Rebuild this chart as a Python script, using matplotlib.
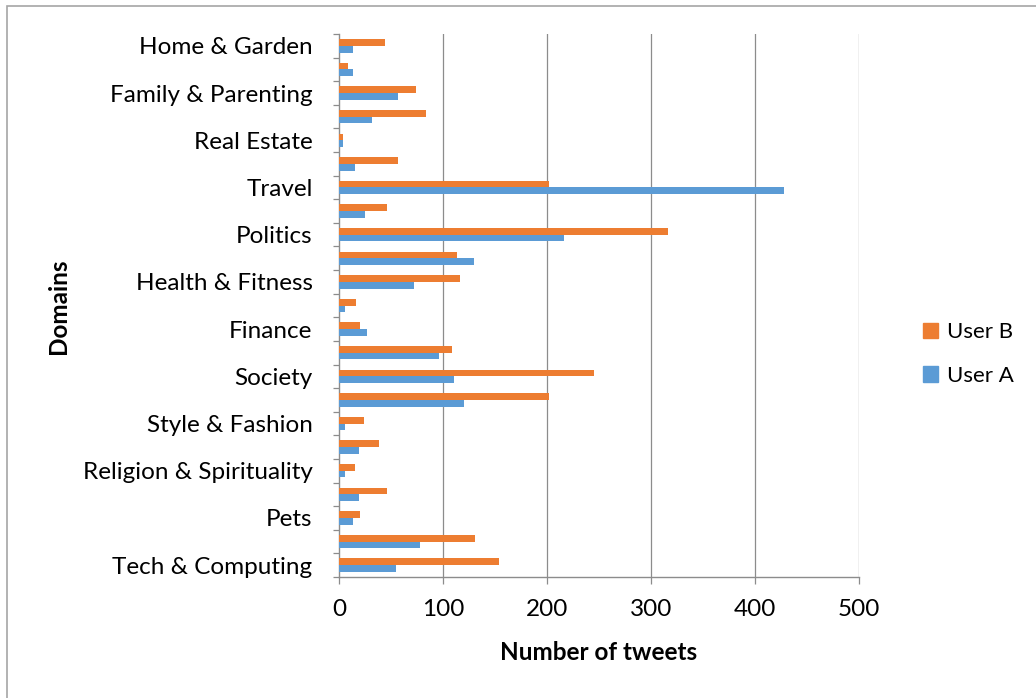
import matplotlib
matplotlib.use("Agg")
import matplotlib.pyplot as plt
from matplotlib.patches import Patch, Rectangle
import numpy as np

# Domain categories, bottom to top; only every other one is labelled on the axis
domains = [
    "Tech & Computing", "Science", "Pets", "Sports", "Religion & Spirituality",
    "Food & Drink", "Style & Fashion", "News", "Society", "Arts & Entertainment",
    "Finance", "Careers", "Health & Fitness", "Hobbies & Interests", "Politics",
    "Education", "Travel", "Business", "Real Estate", "Automotive",
    "Family & Parenting", "Shopping", "Home & Garden",
]
user_b = [154, 131, 20, 46, 15, 38, 24, 202, 245, 109, 20, 16, 116, 113, 316,
          46, 202, 57, 4, 84, 74, 9, 44]
user_a = [55, 78, 13, 19, 6, 19, 6, 120, 111, 96, 27, 6, 72, 130, 216,
          25, 428, 15, 4, 32, 57, 13, 13]
x_ticks = [0, 100, 200, 300, 400, 500]

ORANGE = "#ED7D31"
BLUE = "#5B9BD5"
GRID = "#8C8C8C"
FONT = "Lato"
FS = 17.5

W, H = 1036, 698
fig = plt.figure(figsize=(W / 100, H / 100), dpi=100)
fig.patch.set_facecolor("white")

# outer chart frame
fig.add_artist(Rectangle((7 / W, -0.1), 1.2, (H - 6) / H + 0.1,
                         transform=fig.transFigure, fill=False,
                         edgecolor="#A6A6A6", linewidth=1.2))

ax = fig.add_axes([339 / W, 1 - 577 / H, 520 / W, 543 / H])
y = np.arange(len(domains))
h = 0.285
ax.barh(y + h / 2, user_b, height=h, color=ORANGE, label="User B", zorder=3)
ax.barh(y - h / 2, user_a, height=h, color=BLUE, label="User A", zorder=3)

ax.set_xlim(0, 500)
ax.set_ylim(-0.5, len(domains) - 0.5)

ax.set_xticks(x_ticks)
ax.set_xticklabels([str(t) for t in x_ticks], fontsize=FS, family=FONT)
ax.tick_params(axis="x", direction="out", length=5, width=0.9, color=GRID, pad=11)
for t in x_ticks[1:]:
    ax.axvline(t, color=GRID, linewidth=0.9, zorder=1)

ax.set_yticks(y[::2])
ax.set_yticklabels(domains[::2], fontsize=FS, family=FONT)
ax.set_yticks(np.arange(-0.5, len(domains), 1.0), minor=True)
ax.tick_params(axis="y", which="major", length=0, pad=19)
ax.tick_params(axis="y", which="minor", direction="out", length=4.5, width=0.9, color=GRID)

for side in ("top", "right"):
    ax.spines[side].set_visible(False)
for side in ("left", "bottom"):
    ax.spines[side].set_color(GRID)
    ax.spines[side].set_linewidth(1.0)

fig.text(58 / W, 1 - 306 / H, "Domains", rotation=90, ha="center", va="center",
         fontsize=FS, fontweight="bold", family=FONT)
fig.text(599 / W, 1 - 652 / H, "Number of tweets", ha="center", va="center",
         fontsize=FS, fontweight="bold", family=FONT)

handles = [Patch(color=ORANGE, label="User B"), Patch(color=BLUE, label="User A")]
fig.legend(handles=handles, loc="center left", bbox_to_anchor=(903 / W, 1 - 354 / H),
           frameon=False, prop={"family": FONT, "size": 16},
           handlelength=0.68, handleheight=0.68, handletextpad=0.4, labelspacing=1.05)

fig.savefig("out.png", dpi=100)
